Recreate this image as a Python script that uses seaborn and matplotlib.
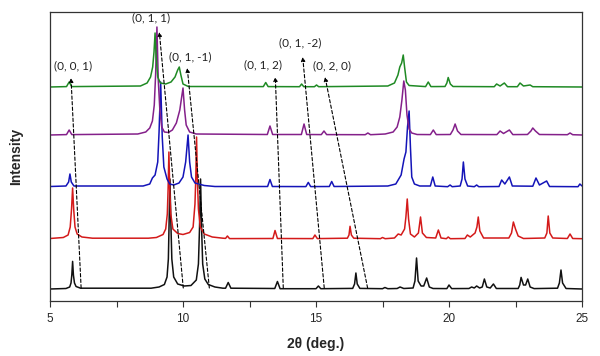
#!/usr/bin/env python3
# coding: utf-8

import pandas as pd
import matplotlib as mpl
import matplotlib.pyplot as plt
from matplotlib.ticker import MultipleLocator
import seaborn as sns

mpl.use('Agg')

# stacked XRD patterns, (2theta, intensity above own baseline)
black_pts = [
    (5.0, 0), (5.60, 0.5), (5.74, 2), (5.79, 6), (5.82, 14), (5.85, 27.6), (5.88, 14), (5.92, 6),
    (5.98, 2.5), (6.15, 0.8), (8.8, 0.8), (9.1, 2), (9.3, 4.5), (9.4, 12), (9.45, 30), (9.48, 70),
    (9.51, 110), (9.54, 70), (9.58, 30), (9.65, 12), (9.8, 5), (10.05, 3), (10.3, 3.5),
    (10.5, 9), (10.58, 25), (10.62, 60), (10.66, 110), (10.70, 60), (10.74, 25), (10.82, 10),
    (10.95, 4.5), (11.2, 2), (11.5, 0.8), (11.6, 0.8), (11.70, 6.5), (11.8, 0.8), (13.45, 0.5),
    (13.55, 7.5), (13.65, 0.3), (15.0, 0.3), (15.09, 3), (15.18, 0.3), (16.38, 0.6), (16.45, 5),
    (16.50, 16), (16.55, 5), (16.65, 0.6), (17.5, 0.3), (17.59, 1.5), (17.7, 0.3), (18.05, 0.5),
    (18.16, 2), (18.3, 0.5), (18.65, 1), (18.72, 8), (18.78, 31), (18.84, 8), (18.95, 3),
    (19.05, 3), (19.16, 11), (19.26, 2), (19.4, 0.5), (19.92, 0.4), (20.0, 4), (20.1, 0.4),
    (20.75, 0.5), (20.85, 2), (20.95, 1), (21.04, 3), (21.15, 1), (21.25, 2), (21.33, 10),
    (21.42, 2), (21.55, 1), (21.67, 5), (21.78, 0.5), (22.6, 0.5), (22.66, 4), (22.71, 11.6),
    (22.8, 4), (22.88, 4), (22.96, 10), (23.05, 2), (23.2, 0.4), (24.08, 0.8), (24.15, 6),
    (24.21, 19), (24.27, 6), (24.4, 0.5), (25.0, 0),
]
red_pts = [
    (5.0, 0.5), (5.5, 1.5), (5.68, 4), (5.76, 12), (5.81, 30), (5.85, 51), (5.89, 30),
    (5.94, 12), (6.02, 5), (6.2, 2), (6.6, 0.8), (8.7, 0.8), (9.0, 1.5), (9.25, 4.5), (9.35, 10),
    (9.41, 25), (9.44, 50), (9.47, 87), (9.50, 50), (9.54, 25), (9.62, 10), (9.8, 5.5),
    (10.0, 4.5), (10.25, 6.5), (10.38, 12), (10.45, 35), (10.48, 60), (10.51, 102), (10.54, 60),
    (10.58, 30), (10.65, 12), (10.8, 5), (11.1, 2), (11.5, 0.8), (11.6, 0.6), (11.67, 3),
    (11.75, 0.4), (13.38, 0.5), (13.46, 8.5), (13.55, 0.5), (14.88, 0.4), (14.96, 4),
    (15.05, 0.4), (16.18, 0.8), (16.24, 4), (16.28, 12.7), (16.33, 4), (16.42, 0.8), (17.42, 0.3),
    (17.5, 1.5), (17.6, 0.3), (17.95, 1), (18.09, 5), (18.2, 4), (18.33, 10), (18.38, 22),
    (18.43, 40), (18.48, 20), (18.55, 5), (18.7, 2), (18.85, 6), (18.93, 22), (19.0, 6),
    (19.15, 1.5), (19.5, 1), (19.6, 9), (19.7, 1), (19.9, 0.3), (19.97, 2), (20.05, 0.3),
    (20.6, 0.5), (20.69, 4), (20.8, 2), (20.98, 6), (21.05, 12), (21.10, 22), (21.16, 8),
    (21.3, 1), (22.25, 1), (22.35, 6), (22.42, 17), (22.5, 10), (22.6, 3), (22.8, 0.5),
    (23.6, 1), (23.68, 6), (23.73, 23), (23.79, 6), (23.9, 1), (24.45, 0.5), (24.55, 5),
    (24.65, 0.5), (25.0, 0.3),
]
blue_pts = [
    (5.0, 0.5), (5.6, 1), (5.7, 5), (5.75, 13), (5.8, 5), (5.9, 1), (8.5, 1), (8.75, 3),
    (8.85, 9), (8.95, 12), (9.05, 25), (9.10, 55), (9.16, 105), (9.22, 50), (9.28, 20),
    (9.4, 8), (9.5, 3), (9.65, 2), (9.85, 4), (10.0, 10), (10.1, 25), (10.19, 52), (10.25, 25),
    (10.32, 10), (10.45, 4), (10.8, 1.5), (11.2, 0.5), (13.18, 0.5), (13.27, 7.5), (13.36, 0.5),
    (14.62, 0.4), (14.71, 4.6), (14.8, 0.4), (15.5, 0.5), (15.59, 5.5), (15.68, 0.5),
    (17.7, 1), (18.0, 3), (18.2, 12), (18.31, 28), (18.38, 35), (18.44, 60), (18.50, 76),
    (18.55, 40), (18.6, 10), (18.7, 3), (18.9, 1), (19.3, 1), (19.39, 10), (19.48, 1),
    (19.95, 0.3), (20.04, 2), (20.12, 0.3), (20.42, 1), (20.49, 8), (20.54, 25), (20.6, 8),
    (20.7, 1), (20.95, 0.3), (21.04, 2), (21.12, 0.3), (21.88, 0.5), (21.98, 7), (22.1, 3),
    (22.27, 10), (22.38, 1), (23.15, 0.8), (23.27, 9), (23.4, 2), (23.67, 6), (23.78, 0.5),
    (24.85, 0.3), (24.92, 3), (25.0, 1),
]
purple_pts = [
    (5.0, 0), (5.62, 0.4), (5.72, 5), (5.82, 0.4), (8.3, 1), (8.6, 3), (8.75, 7), (8.85, 14),
    (8.92, 30), (8.97, 60), (9.02, 108), (9.07, 55), (9.13, 25), (9.2, 8), (9.3, 3),
    (9.45, 2.5), (9.6, 5), (9.75, 12), (9.88, 25), (9.95, 38), (10.0, 47), (10.06, 25),
    (10.12, 10), (10.25, 3), (10.5, 1), (13.17, 0.5), (13.27, 9), (13.37, 0.5), (14.45, 0.5),
    (14.55, 11), (14.65, 0.5), (15.2, 0.4), (15.30, 4), (15.4, 0.4), (16.85, 0.3), (16.95, 2),
    (17.05, 0.3), (17.6, 1), (17.9, 3), (18.05, 8), (18.15, 18), (18.23, 35), (18.30, 54),
    (18.36, 45), (18.42, 20), (18.5, 6), (18.6, 2), (18.8, 0.5), (19.3, 0.4), (19.41, 5),
    (19.52, 0.4), (20.05, 0.5), (20.15, 5), (20.23, 11), (20.32, 4), (20.45, 0.5), (21.8, 0.4),
    (21.92, 4), (22.05, 1.5), (22.27, 5), (22.4, 0.4), (22.95, 0.5), (23.08, 4), (23.15, 7),
    (23.25, 4), (23.4, 0.5), (24.45, 0.3), (24.55, 2), (24.65, 0.3), (25.0, 0),
]
green_pts = [
    (5.0, 0), (5.62, 0.4), (5.72, 5), (5.82, 0.4), (8.4, 1), (8.65, 4), (8.78, 10), (8.86, 20),
    (8.91, 35), (8.95, 54), (8.99, 30), (9.05, 10), (9.15, 4), (9.35, 3), (9.55, 5), (9.7, 10),
    (9.8, 17), (9.86, 20), (9.92, 12), (10.0, 3), (10.2, 0.5), (13.02, 0.4), (13.11, 4.5),
    (13.2, 0.4), (14.38, 0.3), (14.46, 3), (14.54, 0.3), (14.94, 0.3), (15.02, 2), (15.1, 0.3),
    (17.7, 1), (17.95, 4), (18.08, 12), (18.15, 20), (18.22, 24), (18.28, 32), (18.33, 20),
    (18.4, 5), (18.5, 1.5), (19.12, 0.4), (19.22, 5), (19.32, 0.4), (19.85, 0.5), (19.92, 4),
    (19.97, 9.5), (20.05, 3), (20.15, 0.5), (21.7, 0.3), (21.79, 3), (21.92, 1), (22.08, 4),
    (22.2, 0.3), (22.57, 0.3), (22.67, 4), (22.8, 1), (23.05, 2), (23.15, 0.3), (25.0, 0),
]

series_names = ['black', 'red', 'blue', 'purple', 'green']
series_pts = [black_pts, red_pts, blue_pts, purple_pts, green_pts]
series_colors = ['#111111', '#d41a1a', '#1414b8', '#84208a', '#1f8a24']
offsets = [12, 62, 114, 166, 214]  # stacking baselines

# hkl labels: dashed arrow from tail (2theta, y) to head, label centre
hkl_labels = ['(0, 0, 1)', '(0, 1, 1)', '(0, 1, -1)', '(0, 1, 2)', '(0, 1, -2)', '(0, 2, 0)']
arrow_tail = [(6.17, 13), (10.01, 13), (10.99, 13), (13.77, 13), (15.31, 13), (16.94, 13)]
arrow_head = [(5.79, 223), (9.11, 269), (10.16, 233), (13.47, 224), (14.50, 244), (15.34, 224)]
label_pos = [(5.86, 235), (8.80, 283), (10.26, 244), (13.01, 236), (14.40, 258), (15.60, 235)]

sns.set_style("ticks")
plt.rcParams['font.family'] = ['Liberation Sans', 'DejaVu Sans']

fig = plt.figure(figsize=(6, 3.56), dpi=100)
ax = fig.add_axes([50 / 600, 1 - 301 / 356, 532 / 600, 289 / 356])

for name, pts, color, off in zip(series_names, series_pts, series_colors, offsets):
    df = pd.DataFrame(pts, columns=['two_theta', 'intensity'])
    df['intensity'] = df['intensity'] + off
    sns.lineplot(data=df, x='two_theta', y='intensity', ax=ax, color=color,
                 linewidth=1.1, estimator=None)

for lab, tail, head, pos in zip(hkl_labels, arrow_tail, arrow_head, label_pos):
    ax.annotate('', xy=head, xytext=tail,
                arrowprops=dict(arrowstyle='-|>', linestyle=(0, (3, 2)), lw=0.8,
                                color='black', mutation_scale=6, shrinkA=0, shrinkB=0))
    ax.text(pos[0], pos[1], lab, ha='center', va='center', fontsize=8.5,
            family=['Lato', 'DejaVu Sans'], color='#222222')

ax.set_xlim(5, 25)
ax.set_ylim(0, 289)
ax.set_yticks([])
ax.xaxis.set_major_locator(MultipleLocator(5))
ax.xaxis.set_minor_locator(MultipleLocator(2.5))
ax.tick_params(axis='x', which='both', direction='out', length=4, width=0.8,
               labelsize=8.5, pad=5, color='#333333')
for sp in ax.spines.values():
    sp.set_linewidth(0.9)
    sp.set_color('#333333')
ax.set_xlabel('2θ (deg.)', fontsize=10, fontweight='bold', labelpad=8)
ax.set_ylabel('Intensity', fontsize=10, fontweight='bold', labelpad=19)

fig.savefig('out.png', dpi=100)
plt.close('all')
